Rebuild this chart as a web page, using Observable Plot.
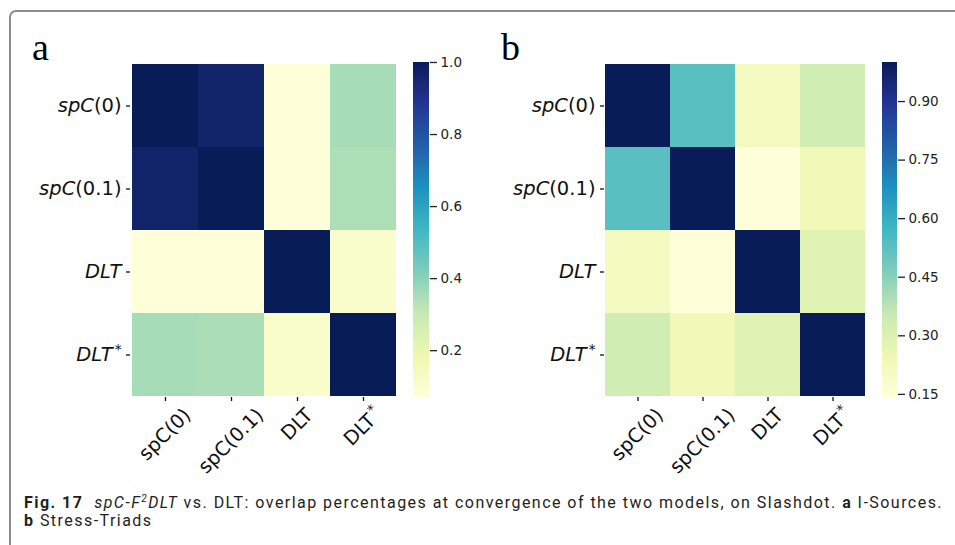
<!DOCTYPE html>
<html>
<head>
<meta charset="utf-8">
<script src="https://cdn.jsdelivr.net/npm/d3@7"></script>
<script src="https://cdn.jsdelivr.net/npm/@observablehq/plot@0.6"></script>
<style>
  body { margin: 0; background: #fff; }
  #root { position: relative; width: 955px; height: 545px; overflow: hidden; background: #fff; }
  #frame { position: absolute; left: 9px; top: 10px; width: 1000px; height: 600px; border: 2px solid #8c8c8c; border-radius: 7px; box-sizing: border-box; }
  .plot { position: absolute; top: 0; }
  .plot svg { overflow: visible; display: block; }
  #labels { position: absolute; left: 0; top: 0; }
  #caption { position: absolute; left: 24px; top: 494px; font-family: "Liberation Sans Narrow", "Roboto", sans-serif; font-size: 16px; line-height: 18px; color: #231f20; white-space: nowrap; }
  #caption sup { font-size: 10px; vertical-align: 6px; line-height: 0; }
</style>
</head>
<body>
<div id="root">
  <div id="frame"></div>
  <div id="pa" class="plot" style="left:0px"></div>
  <div id="ca" class="plot" style="left:400px"></div>
  <div id="pb" class="plot" style="left:480px"></div>
  <div id="cb" class="plot" style="left:870px"></div>
  <svg id="labels" width="955" height="100"></svg>
  <div id="caption"><span id="line1"><b>Fig. 17</b>&nbsp; <i>spC-F<sup>2</sup>DLT</i> vs. DLT: overlap percentages at convergence of the two models, on Slashdot. <b>a</b> I-Sources.</span><br><span><b>b</b> Stress-Triads</span></div>
</div>
<script>
// ---- data ----
const rows = ["spC(0)", "spC(0.1)", "DLT", "DLT*"];
const cols = ["spC(0)", "spC(0.1)", "DLT", "DLT*"];
// panel a: I-Sources
const valuesA = [
  [1.00, 0.965, 0.07, 0.356],
  [0.965, 1.00, 0.07, 0.345],
  [0.07, 0.07, 1.00, 0.11],
  [0.356, 0.347, 0.11, 1.00]
];
// panel b: Stress-Triads
const valuesB = [
  [1.00, 0.53, 0.21, 0.33],
  [0.53, 1.00, 0.142, 0.23],
  [0.21, 0.142, 1.00, 0.285],
  [0.33, 0.23, 0.285, 1.00]
];
const ticksA = [0.2, 0.4, 0.6, 0.8, 1.0];
const ticksB = [0.15, 0.30, 0.45, 0.60, 0.75, 0.90];
const panelLabels = ["a", "b"];
const ylgnbu = ["#ffffd9", "#edf8b1", "#c7e9b4", "#7fcdbb", "#41b6c4", "#1d91c0", "#225ea8", "#253494", "#081d58"];

function colorScale(lo, hi) {
  return {type: "linear", domain: ylgnbu.map((_, i) => lo + (hi - lo) * i / (ylgnbu.length - 1)), range: ylgnbu, interpolate: "rgb"};
}

const NS = "http://www.w3.org/2000/svg";
function setLabel(text, label, italic) {
  while (text.firstChild) text.removeChild(text.firstChild);
  const star = label.endsWith("*");
  const base = star ? label.slice(0, -1) : label;
  const m = base.match(/^([A-Za-z]+)(.*)$/);
  const add = (s, attrs) => {
    const t = document.createElementNS(NS, "tspan");
    t.textContent = s;
    for (const [k, v] of Object.entries(attrs)) t.setAttribute(k, v);
    text.appendChild(t);
  };
  add(m[1], italic ? {"font-style": "italic"} : {});
  if (m[2]) add(m[2], {});
  if (star) add("*", {"font-size": "0.7em", dy: "-0.55em", dx: "0.15em"});
}

function heatmap(el, values, {width, marginLeft, marginRight}) {
  const data = rows.flatMap((r, i) => cols.map((c, j) => ({row: r, col: c, value: values[i][j]})));
  const flat = values.flat();
  const lo = d3.min(flat), hi = d3.max(flat);
  const plot = Plot.plot({
    width, height: 480, marginLeft, marginRight, marginTop: 62, marginBottom: 83,
    style: {background: "transparent", overflow: "visible", fontFamily: "DejaVu Sans", color: "#111"},
    x: {domain: cols, padding: 0, label: null},
    y: {domain: rows, padding: 0, label: null},
    color: colorScale(lo, hi),
    marks: [
      Plot.cell(data, {x: "col", y: "row", fill: "value", inset: 0, shapeRendering: "crispEdges"}),
      Plot.axisY({tickSize: 4, tickPadding: 5, fontSize: 19.5, strokeWidth: 1.3, label: null}),
      Plot.axisX({tickSize: 4, tickPadding: 3, fontSize: 19.5, strokeWidth: 1.3, label: null})
    ]
  });
  el.appendChild(plot);
  plot.querySelectorAll('[aria-label="y-axis tick label"] text').forEach(t => setLabel(t, t.textContent, true));
  const xs = plot.scale("x"), ys = plot.scale("y");
  const bottom = Math.max(...ys.range) + 4 + 4;
  const g = plot.querySelector('[aria-label="x-axis tick label"]');
  g.removeAttribute("transform");
  g.setAttribute("text-anchor", "middle");
  g.setAttribute("font-size", 19.5);
  g.querySelectorAll("text").forEach(t => {
    const lab = t.textContent;
    setLabel(t, lab, false);
    t.removeAttribute("x"); t.removeAttribute("y");
    t.setAttribute("dy", "0.32em");
    const len = t.getComputedTextLength();
    const W = (len + 19.5 * 1.0) * Math.SQRT1_2;
    const cx = xs.apply(lab) + xs.bandwidth / 2;
    t.setAttribute("transform", `translate(${cx},${bottom + W / 2}) rotate(-45)`);
  });
}

function colorbar(el, values, ticks, fmt, {width, marginLeft, marginRight}) {
  const flat = values.flat();
  const lo = d3.min(flat), hi = d3.max(flat);
  const n = 335;
  const bands = d3.range(n).map(i => ({y1: lo + (hi - lo) * i / n, y2: lo + (hi - lo) * (i + 1.6) / n, v: lo + (hi - lo) * (i + 0.5) / n}));
  const plot = Plot.plot({
    width, height: 480, marginLeft, marginRight, marginTop: 62, marginBottom: 83,
    style: {background: "transparent", overflow: "visible", fontFamily: "DejaVu Sans", color: "#222"},
    x: {domain: [0, 1], axis: null},
    y: {domain: [lo, hi], label: null},
    color: colorScale(lo, hi),
    marks: [
      Plot.rect(bands, {x1: 0, x2: 1, y1: "y1", y2: d => Math.min(d.y2, hi), fill: "v", shapeRendering: "crispEdges"}),
      Plot.axisY({anchor: "right", ticks, tickFormat: fmt, tickSize: 7, tickPadding: 4, fontSize: 13.5, strokeWidth: 1.3, label: null})
    ]
  });
  el.appendChild(plot);
}

heatmap(document.getElementById("pa"), valuesA, {width: 430, marginLeft: 130, marginRight: 33});
colorbar(document.getElementById("ca"), valuesA, ticksA, d3.format(".1f"), {width: 80, marginLeft: 13, marginRight: 51});
heatmap(document.getElementById("pb"), valuesB, {width: 420, marginLeft: 124, marginRight: 35});
colorbar(document.getElementById("cb"), valuesB, ticksB, d3.format(".2f"), {width: 85, marginLeft: 12, marginRight: 58});

// panel letters
const lsvg = document.getElementById("labels");
[[32, panelLabels[0]], [501, panelLabels[1]]].forEach(([x, s]) => {
  const t = document.createElementNS(NS, "text");
  t.setAttribute("x", x); t.setAttribute("y", 60);
  t.setAttribute("font-family", "Liberation Serif, serif");
  t.setAttribute("font-size", 38);
  t.textContent = s;
  lsvg.appendChild(t);
});

// fit caption width
const cap = document.getElementById("caption");
const line1 = document.getElementById("line1");
const w = line1.getBoundingClientRect().width;
const nChars = line1.textContent.length;
cap.style.letterSpacing = ((919 - w) / nChars) + "px";
</script>
</body>
</html>
